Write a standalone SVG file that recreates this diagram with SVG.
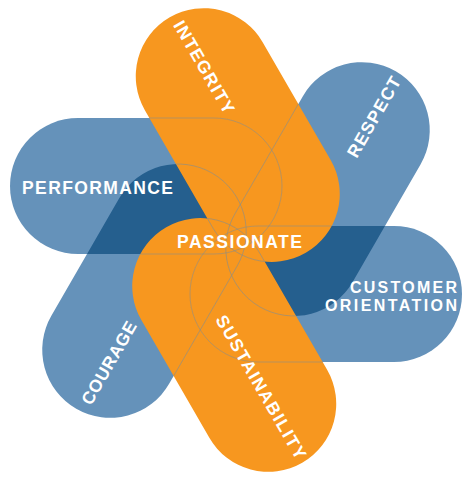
<svg xmlns="http://www.w3.org/2000/svg" xmlns:xlink="http://www.w3.org/1999/xlink" width="462" height="477" viewBox="0 0 462 477">
<style>
.blue{fill:#6592BA}
.dark{fill:#255F8E}
.orange{fill:#F7971F}
.line{fill:none;stroke:#8E8E86;stroke-width:0.8;stroke-opacity:0.75}
.lbl{font-family:"Liberation Sans","DejaVu Sans",Arial,sans-serif;font-weight:bold;font-size:17.5px;fill:#FFFFFF}
.sm{font-size:16px}
</style>
<defs>
<rect id="pill" x="-226" y="-122" width="272" height="136" rx="68"/>
<clipPath id="cPerf"><use xlink:href="#pill" href="#pill"/></clipPath>
<clipPath id="cCust"><use xlink:href="#pill" href="#pill" transform="rotate(180)"/></clipPath>
<clipPath id="cInt"><use xlink:href="#pill" href="#pill" transform="rotate(60)"/></clipPath>
<clipPath id="cSus"><use xlink:href="#pill" href="#pill" transform="rotate(240)"/></clipPath>
<clipPath id="cOr"><use xlink:href="#pill" href="#pill" transform="rotate(60)"/><use xlink:href="#pill" href="#pill" transform="rotate(240)"/></clipPath>
</defs>
<g transform="translate(236,240)">
  <g id="performance"><use href="#pill" class="blue"/></g>
  <g id="respect"><use href="#pill" class="blue" transform="rotate(120)"/></g>
  <g id="customer-orientation"><use href="#pill" class="blue" transform="rotate(180)"/></g>
  <g id="courage"><use href="#pill" class="blue" transform="rotate(300)"/></g>
  <g id="overlaps">
    <g clip-path="url(#cPerf)"><use href="#pill" class="dark" transform="rotate(300)"/></g>
    <g clip-path="url(#cCust)"><use href="#pill" class="dark" transform="rotate(120)"/></g>
  </g>
  <g id="integrity"><use href="#pill" class="orange" transform="rotate(60)"/></g>
  <g id="sustainability"><use href="#pill" class="orange" transform="rotate(240)"/></g>
  <g id="outlines">
    <g clip-path="url(#cOr)">
      <use href="#pill" class="line"/>
      <use href="#pill" class="line" transform="rotate(120)"/>
      <use href="#pill" class="line" transform="rotate(180)"/>
      <use href="#pill" class="line" transform="rotate(300)"/>
    </g>
    <g clip-path="url(#cSus)"><use href="#pill" class="line" transform="rotate(60)"/></g>
    <g clip-path="url(#cInt)"><use href="#pill" class="line" transform="rotate(240)"/></g>
  </g>
</g>
<g id="labels">
  <text id="label-performance" class="lbl" x="22" y="194" textLength="151" lengthAdjust="spacing">PERFORMANCE</text>
  <text id="label-passionate" class="lbl" x="177" y="247.5" textLength="125" lengthAdjust="spacing">PASSIONATE</text>
  <text id="label-customer" class="lbl sm" x="457" y="292.5" text-anchor="end" textLength="107" lengthAdjust="spacing">CUSTOMER</text>
  <text id="label-orientation" class="lbl sm" x="457" y="311" text-anchor="end" textLength="132" lengthAdjust="spacing">ORIENTATION</text>
  <text id="label-integrity" class="lbl" transform="translate(204,67) rotate(60)" x="0" y="6" text-anchor="middle" textLength="104" lengthAdjust="spacing">INTEGRITY</text>
  <text id="label-respect" class="lbl" transform="translate(374,117) rotate(-60)" x="0" y="6" text-anchor="middle" textLength="90" lengthAdjust="spacing">RESPECT</text>
  <text id="label-courage" class="lbl" transform="translate(109,363) rotate(-60)" x="0" y="6" text-anchor="middle" textLength="93" lengthAdjust="spacing">COURAGE</text>
  <text id="label-sustainability" class="lbl" transform="translate(261,387) rotate(60)" x="0" y="6" text-anchor="middle" textLength="163" lengthAdjust="spacing">SUSTAINABILITY</text>
</g>
</svg>
